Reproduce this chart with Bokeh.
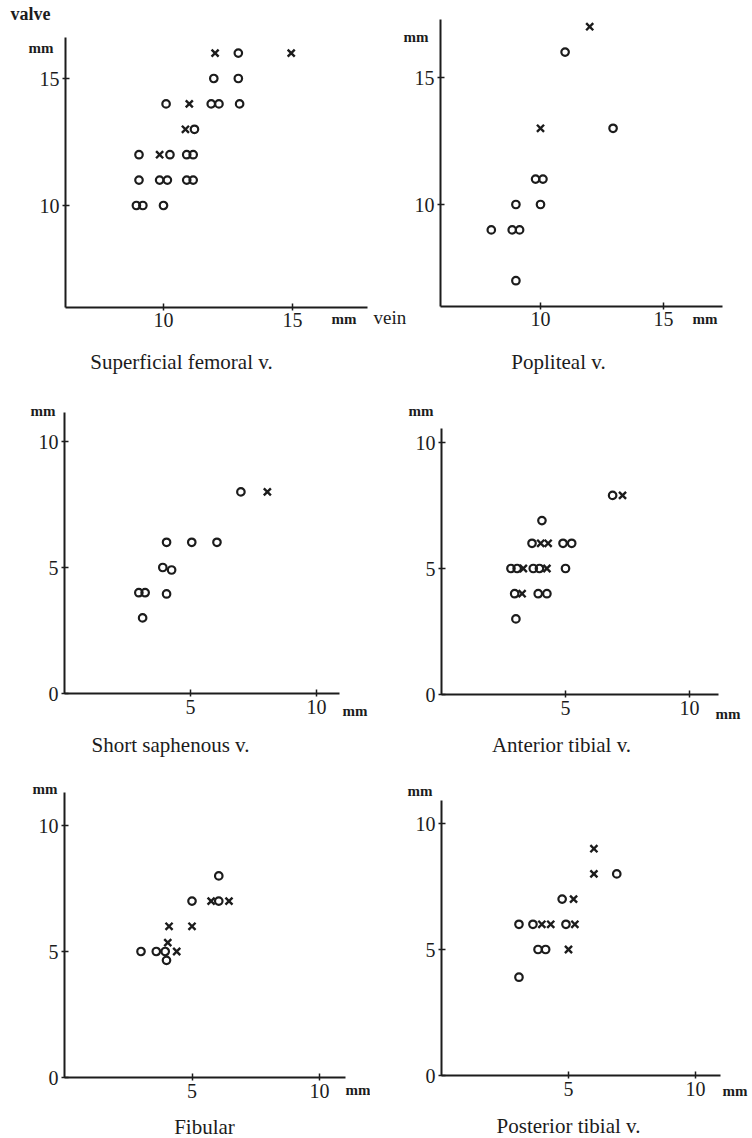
from bokeh.plotting import figure
from bokeh.models import Range1d, LinearAxis, FixedTicker
from bokeh.layouts import column, row
from bokeh.embed import file_html
from bokeh.resources import INLINE
from bokeh.core.properties import value

INK = "#1c1c1c"
FONT = "Liberation Serif"

# ---------------- data (vein diameter x, valve diameter y, mm) ----------------
sf_circle_x = [12.9, 11.95, 12.9, 10.1, 11.85, 12.15, 12.95, 11.2, 9.05, 10.25, 10.9, 11.15,
               9.05, 9.85, 10.15, 10.9, 11.15, 8.95, 9.2, 10.0]
sf_circle_y = [16, 15, 15, 14, 14, 14, 14, 13, 12, 12, 12, 12, 11, 11, 11, 11, 11, 10, 10, 10]
sf_cross_x = [12.0, 14.95, 11.0, 10.85, 9.85]
sf_cross_y = [16, 16, 14, 13, 12]

pop_circle_x = [11.0, 12.95, 9.8, 10.1, 9.0, 10.0, 8.0, 8.85, 9.15, 9.0]
pop_circle_y = [16, 13, 11, 11, 10, 10, 9, 9, 9, 7]
pop_cross_x = [12.0, 10.0]
pop_cross_y = [17, 13]

ss_circle_x = [7.0, 4.05, 5.05, 6.05, 3.9, 4.25, 2.95, 3.2, 4.05, 3.1]
ss_circle_y = [8, 6, 6, 6, 5, 4.9, 4, 4, 3.95, 3]
ss_cross_x = [8.05]
ss_cross_y = [8]

at_circle_x = [6.9, 4.05, 3.65, 4.9, 5.25, 2.8, 3.05, 3.7, 3.95, 5.0, 2.95, 3.9, 4.25, 3.0]
at_circle_y = [7.9, 6.9, 6, 6, 6, 5, 5, 5, 5, 5, 4, 4, 4, 3]
at_cross_x = [7.3, 4.0, 4.3, 3.3, 4.25, 3.25]
at_cross_y = [7.9, 6, 6, 5, 5, 4]

fib_circle_x = [6.05, 6.05, 5.0, 3.0, 3.6, 3.95, 4.0]
fib_circle_y = [8, 7, 7, 5, 5, 5, 4.65]
fib_cross_x = [5.75, 6.45, 4.1, 5.0, 4.05, 4.4]
fib_cross_y = [7, 7, 6, 6, 5.35, 5]

pt_circle_x = [6.9, 4.75, 3.05, 3.6, 4.9, 3.8, 4.1, 3.05]
pt_circle_y = [8, 7, 6, 6, 6, 5, 5, 3.9]
pt_cross_x = [6.0, 6.0, 5.2, 3.95, 4.3, 5.25, 5.0]
pt_cross_y = [9, 8, 7, 6, 6, 6, 5]

titles = ["Superficial femoral v.", "Popliteal v.", "Short saphenous v.",
          "Anterior tibial v.", "Fibular", "Posterior tibial v."]
ticks_big = [10, 15]
ticks_small_x = [5, 10]
ticks_small_y = [0, 5, 10]

# ---------------- layout (page pixels) ----------------
# box: (left, top, width, height); xmap: px = ax + bx*x ; ymap: py = ay - by*y
panels = [
    dict(title=titles[0], cx=sf_circle_x, cy=sf_circle_y, kx=sf_cross_x, ky=sf_cross_y,
         box=(0, 0, 370, 380), xmap=(-95, 25.8), ymap=(459, 25.4),
         yaxis_at=6.2, ybounds=(6.0, 16.6), xaxis_at=6.0, xbounds=(6.2, 17.9),
         xticks=ticks_big, yticks=ticks_big,
         texts=[("valve", 10, 19, "left", 18, "bold"),
                ("mm", 53, 52, "right", 15, "bold"),
                ("mm", 331, 323, "left", 15, "bold")],
         tpos=(181, 368)),
    dict(title=titles[1], cx=pop_circle_x, cy=pop_circle_y, kx=pop_cross_x, ky=pop_cross_y,
         box=(370, 0, 382, 380), xmap=(294, 24.6), ymap=(458, 25.4),
         yaxis_at=5.93, ybounds=(6.0, 17.3), xaxis_at=6.0, xbounds=(5.93, 17.4),
         xticks=ticks_big, yticks=ticks_big,
         texts=[("mm", 428, 41, "right", 15, "bold"),
                ("mm", 692, 323, "left", 15, "bold"),
                ("vein", 373, 323, "left", 19, "normal")],
         tpos=(558, 368)),
    dict(title=titles[2], cx=ss_circle_x, cy=ss_circle_y, kx=ss_cross_x, ky=ss_cross_y,
         box=(0, 380, 370, 380), xmap=(64, 25.2), ymap=(693, 25.2),
         yaxis_at=0, ybounds=(0, 11.15), xaxis_at=0, xbounds=(0, 10.9),
         xticks=ticks_small_x, yticks=ticks_small_y,
         texts=[("mm", 55, 415, "right", 15, "bold"),
                ("mm", 342, 715, "left", 15, "bold")],
         tpos=(170, 751)),
    dict(title=titles[3], cx=at_circle_x, cy=at_circle_y, kx=at_cross_x, ky=at_cross_y,
         box=(370, 380, 382, 380), xmap=(441, 24.8), ymap=(694, 25.2),
         yaxis_at=0, ybounds=(0, 10.55), xaxis_at=0, xbounds=(0, 11.15),
         xticks=ticks_small_x, yticks=ticks_small_y,
         texts=[("mm", 433, 415, "right", 15, "bold"),
                ("mm", 715, 718, "left", 15, "bold")],
         tpos=(561, 751)),
    dict(title=titles[4], cx=fib_circle_x, cy=fib_circle_y, kx=fib_cross_x, ky=fib_cross_y,
         box=(0, 760, 370, 378), xmap=(64, 25.5), ymap=(1077, 25.2),
         yaxis_at=0, ybounds=(0, 11.3), xaxis_at=0, xbounds=(0, 11.0),
         xticks=ticks_small_x, yticks=ticks_small_y,
         texts=[("mm", 57, 793, "right", 15, "bold"),
                ("mm", 345, 1094, "left", 15, "bold")],
         tpos=(204, 1133)),
    dict(title=titles[5], cx=pt_circle_x, cy=pt_circle_y, kx=pt_cross_x, ky=pt_cross_y,
         box=(370, 760, 382, 378), xmap=(441, 25.4), ymap=(1075, 25.2),
         yaxis_at=0, ybounds=(0, 10.9), xaxis_at=0, xbounds=(0, 11.0),
         xticks=ticks_small_x, yticks=ticks_small_y,
         texts=[("mm", 432, 795, "right", 15, "bold"),
                ("mm", 722, 1095, "left", 15, "bold")],
         tpos=(568, 1132)),
]

TITLE_SIZE = 21
DESCENT = 0.32  # the glyph text sits about this many em below the requested baseline


def make_panel(c):
    L, T, W, H = c["box"]
    ax, bx = c["xmap"]
    ay, by = c["ymap"]
    inv_x = lambda px: (px - ax) / bx
    inv_y = lambda py: (ay - py) / by
    p = figure(width=W, height=H,
               x_range=Range1d(inv_x(L), inv_x(L + W)),
               y_range=Range1d(inv_y(T + H), inv_y(T)),
               output_backend="svg", toolbar_location=None,
               x_axis_location=None, y_axis_location=None,
               min_border=0, title=None)
    p.outline_line_color = None
    p.background_fill_color = "white"
    p.border_fill_color = "white"
    p.grid.visible = False

    yax = LinearAxis(fixed_location=c["yaxis_at"], bounds=c["ybounds"],
                     ticker=FixedTicker(ticks=c["yticks"], minor_ticks=[]))
    xax = LinearAxis(fixed_location=c["xaxis_at"], bounds=c["xbounds"],
                     ticker=FixedTicker(ticks=c["xticks"], minor_ticks=[]))
    for a in (xax, yax):
        a.axis_line_color = INK
        a.axis_line_width = 2
        a.major_tick_line_color = INK
        a.major_tick_line_width = 1.5
        a.major_tick_in = 4
        a.major_tick_out = 3
        a.minor_tick_line_color = None
        a.major_label_text_font = FONT
        a.major_label_text_font_size = "20px"
        a.major_label_text_color = INK
        a.major_label_standoff = 3
    p.add_layout(yax, "left")
    p.add_layout(xax, "below")

    p.scatter(c["cx"], c["cy"], marker="circle", size=7.5, fill_color=None,
              line_color=INK, line_width=2.2)
    p.scatter(c["kx"], c["ky"], marker="x", size=10, line_color=INK, line_width=2.4)

    for txt, px, py, align, size, style in c["texts"]:
        p.text(x=[inv_x(px)], y=[inv_y(py - DESCENT * size)], text=[txt],
               text_font=value(FONT), text_font_size=value(f"{size}px"),
               text_font_style=style, text_color=INK,
               text_align=align, text_baseline="alphabetic")
    tx, ty = c["tpos"]
    p.text(x=[inv_x(tx)], y=[inv_y(ty - DESCENT * TITLE_SIZE)], text=[c["title"]],
           text_font=value(FONT), text_font_size=value(f"{TITLE_SIZE}px"),
           text_color=INK, text_align="center", text_baseline="alphabetic")
    return p


figs = [make_panel(c) for c in panels]
layout = column(row(figs[0], figs[1]), row(figs[2], figs[3]), row(figs[4], figs[5]))

open("out.html", "w").write(file_html(layout, INLINE))
